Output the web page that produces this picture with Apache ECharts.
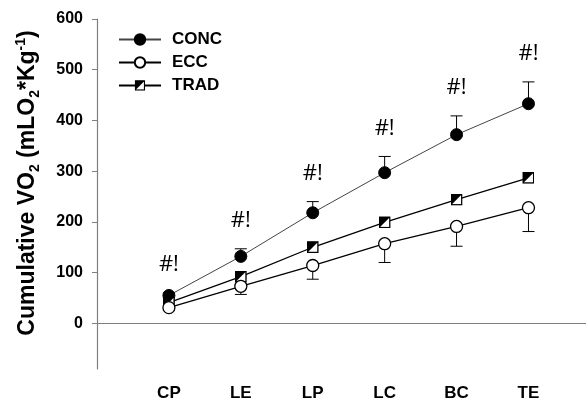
<!DOCTYPE html>
<html>
<head>
<meta charset="utf-8">
<script src="https://cdn.jsdelivr.net/npm/echarts@6/dist/echarts.min.js"></script>
<style>
  html, body { margin: 0; padding: 0; background: #fff; }
  #main { width: 586px; height: 402px; }
</style>
</head>
<body>
<div id="main"></div>
<script>
  // data
  let categories = ['CP', 'LE', 'LP', 'LC', 'BC', 'TE'];
  let concMean = [55, 132, 218, 297, 372, 433];
  let concSd = [5, 15, 22, 32, 37, 43];
  let eccMean = [31, 73, 114, 157, 191, 228];
  let eccSd = [6, 16, 27, 37, 39, 47];
  let tradMean = [41, 92, 150, 199, 244, 287];
  let sigMark = ['#!', '#!', '#!', '#!', '#!', '#!'];
  let yTicks = [0, 100, 200, 300, 400, 500, 600];

  let font = 'Liberation Sans, Arial, sans-serif';

  // half filled square for TRAD
  let tradSvg = "<svg xmlns='http://www.w3.org/2000/svg' width='24' height='24'>" +
    "<rect x='1.5' y='1.5' width='21' height='21' fill='white' stroke='black' stroke-width='3'/>" +
    "<path d='M0,0 H24 L0,24 Z' fill='black'/></svg>";
  let tradSymbol = 'image://data:image/svg+xml;charset=utf-8,' + encodeURIComponent(tradSvg);

  let xy = (vals) => vals.map((v, i) => [i + 1, v]);

  // error bar: dir 1 = up, -1 = down
  function errBar(dir) {
    return function (params, api) {
      let p0 = api.coord([api.value(0), api.value(1)]);
      let p1 = api.coord([api.value(0), api.value(1) + dir * api.value(2)]);
      let style = { stroke: '#000', lineWidth: 1 };
      return {
        type: 'group',
        children: [
          { type: 'line', shape: { x1: p0[0], y1: p0[1], x2: p1[0], y2: p1[1] }, style: style },
          { type: 'line', shape: { x1: p1[0] - 6, y1: p1[1], x2: p1[0] + 6, y2: p1[1] }, style: style }
        ]
      };
    };
  }

  let myChart = echarts.init(document.getElementById('main'));
  myChart.setOption({
    animation: false,
    grid: { left: 97, right: 0, top: 19, bottom: 32 },
    legend: {
      data: ['CONC', 'ECC', 'TRAD'],
      orient: 'vertical',
      left: 118,
      top: 31,
      padding: 0,
      itemWidth: 42,
      itemHeight: 13,
      itemGap: 6,
      textStyle: { fontFamily: font, fontWeight: 'bold', fontSize: 17, lineHeight: 17, color: '#000', padding: [0, 0, 0, 6] }
    },
    xAxis: {
      type: 'value',
      min: 0,
      max: 6.8,
      axisLine: { lineStyle: { color: '#7f7f7f', width: 1.2 } },
      axisTick: { show: false },
      splitLine: { show: false },
      axisLabel: {
        customValues: [1, 2, 3, 4, 5, 6],
        formatter: v => categories[v - 1] || '',
        margin: 16,
        fontFamily: font,
        fontWeight: 'bold',
        fontSize: 17,
        color: '#000'
      }
    },
    yAxis: {
      type: 'value',
      min: -90,
      max: 600,
      name: 'Cumulative VO{sub|2} (mLO{sub|2}*Kg{sup|-1})',
      nameLocation: 'middle',
      nameGap: 55,
      nameTextStyle: {
        fontFamily: font,
        fontWeight: 'bold',
        fontSize: 23,
        lineHeight: 28,
        color: '#000',
        padding: [0, 0, 0, 22],
        rich: {
          sub: { fontFamily: font, fontWeight: 'bold', fontSize: 14, lineHeight: 14, verticalAlign: 'bottom', color: '#000' },
          sup: { fontFamily: font, fontWeight: 'bold', fontSize: 14, lineHeight: 14, verticalAlign: 'top', color: '#000' }
        }
      },
      axisLine: { show: true, lineStyle: { color: '#7f7f7f', width: 1.2 } },
      axisTick: { show: true, length: 5, customValues: yTicks, lineStyle: { color: '#7f7f7f' } },
      splitLine: { show: false },
      axisLabel: {
        customValues: yTicks,
        margin: 14,
        fontFamily: font,
        fontWeight: 'bold',
        fontSize: 16,
        color: '#000'
      }
    },
    series: [
      {
        name: 'CONC err',
        type: 'custom',
        z: 1,
        renderItem: errBar(1),
        data: concMean.map((v, i) => [i + 1, v, concSd[i]])
      },
      {
        name: 'ECC err',
        type: 'custom',
        z: 1,
        renderItem: errBar(-1),
        data: eccMean.map((v, i) => [i + 1, v, eccSd[i]])
      },
      {
        name: 'CONC',
        type: 'line',
        z: 3,
        symbol: 'circle',
        symbolSize: 12,
        data: xy(concMean),
        lineStyle: { color: '#444', width: 1 },
        itemStyle: { color: '#000', borderColor: '#000', borderWidth: 1 }
      },
      {
        name: 'TRAD',
        type: 'line',
        z: 3,
        symbol: tradSymbol,
        symbolSize: 12,
        data: xy(tradMean),
        lineStyle: { color: '#000', width: 1.3 },
        itemStyle: { color: '#000' }
      },
      {
        name: 'ECC',
        type: 'line',
        z: 3,
        symbol: 'circle',
        symbolSize: 12,
        data: xy(eccMean),
        lineStyle: { color: '#000', width: 1.3 },
        itemStyle: { color: '#fff', borderColor: '#000', borderWidth: 1.3 }
      },
      {
        name: 'sig',
        type: 'scatter',
        symbol: 'circle',
        symbolSize: 2,
        itemStyle: { color: 'transparent' },
        data: concMean.map((v, i) => [i + 1, v + concSd[i]]),
        label: {
          show: true,
          position: 'top',
          distance: 16,
          formatter: p => sigMark[p.dataIndex],
          fontFamily: 'Open Sans, sans-serif',
          fontSize: 22,
          color: '#000',
          opacity: 1
        }
      }
    ]
  });
</script>
</body>
</html>
